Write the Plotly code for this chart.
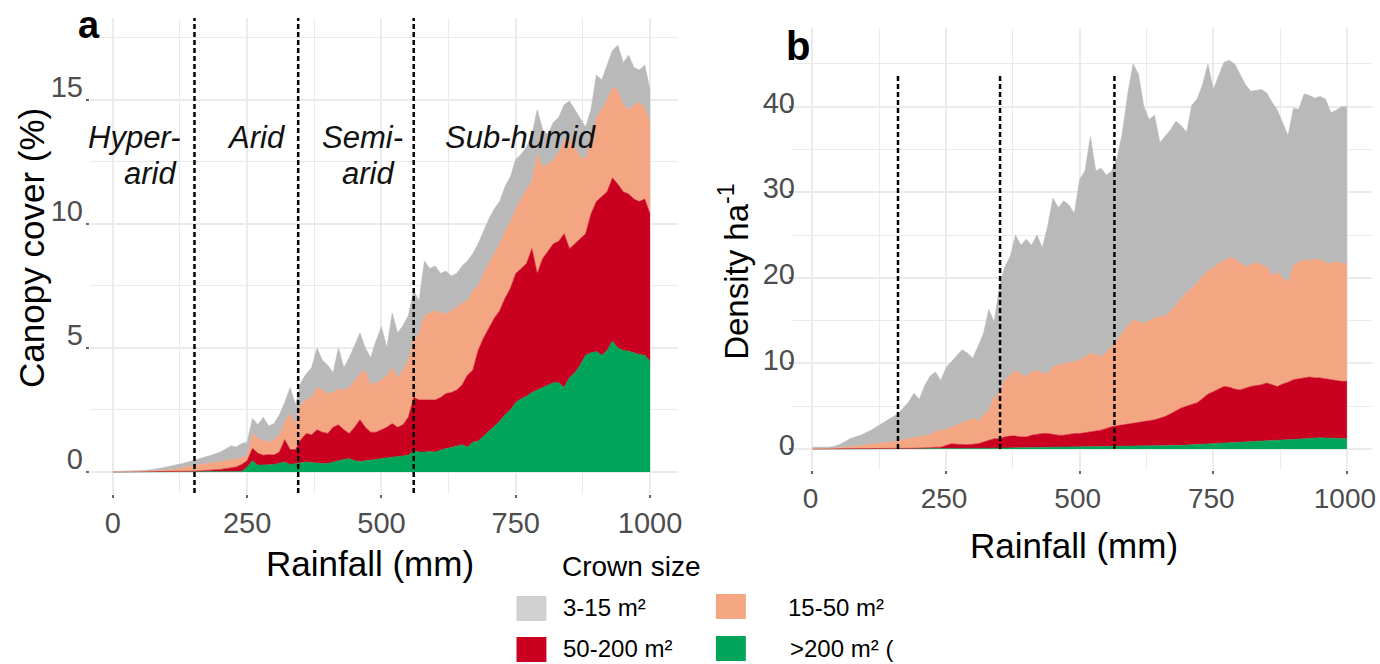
import plotly.graph_objects as go

W, H = 1380, 664
FONT = "Liberation Sans, Arial, sans-serif"

# ---------------- data ----------------
rainfall_mm = list(range(0, 1001, 10))

# Panel a: canopy cover (%) -- cumulative top of each stacked crown-size layer
cover_top_gt200 = [
    0, 0, 0, 0, 0, 0, 0, 0, 0, 0,
    0, 0, 0, 0, 0, 0, 0, 0, 0, 0,
    0, 0, 0.01, 0.01, 0.02, 0.2, 0.45, 0.27, 0.28, 0.3,
    0.3, 0.35, 0.4, 0.3, 0.34, 0.36, 0.4, 0.38, 0.35, 0.34,
    0.34, 0.38, 0.45, 0.5, 0.54, 0.45, 0.42, 0.45, 0.47, 0.5,
    0.54, 0.56, 0.58, 0.6, 0.62, 0.67, 0.85, 0.8, 0.8, 0.82,
    0.8, 0.88, 0.94, 0.98, 1.05, 1.1, 1.0, 1.2, 1.24, 1.45,
    1.64, 1.85, 2.04, 2.3, 2.5, 2.8, 2.95, 3.05, 3.2, 3.3,
    3.4, 3.5, 3.6, 3.6, 3.4, 3.8, 4.0, 4.3, 4.7, 4.8,
    4.85, 4.7, 4.9, 5.27, 5.0, 4.9, 4.87, 4.8, 4.73, 4.7,
    4.46]
cover_top_50_200 = [
    0, 0, 0, 0, 0, 0, 0, 0, 0, 0,
    0.01, 0.01, 0.01, 0.02, 0.02, 0.03, 0.04, 0.05, 0.07, 0.08,
    0.1, 0.13, 0.16, 0.2, 0.3, 0.45, 0.95, 0.75, 0.67, 0.7,
    0.68, 0.8, 1.3, 0.9, 0.9, 1.3, 1.55, 1.5, 1.7, 1.6,
    1.55, 1.8, 1.9, 1.7, 1.55, 1.8, 2.1, 1.8, 1.6, 1.6,
    1.7, 1.8, 1.95, 1.8, 1.9, 2.2, 3.0, 2.9, 2.9, 2.9,
    2.9, 3.0, 3.16, 3.2, 3.3, 3.5, 3.9, 4.1, 4.9, 5.4,
    5.8, 6.2, 6.5, 7.0, 7.4, 8.0, 8.2, 8.4, 9.0, 8.0,
    8.6, 8.9, 9.2, 9.3, 9.6, 9.0, 9.2, 9.4, 9.6, 10.4,
    10.9, 11.1, 11.3, 11.85, 11.6, 11.3, 11.2, 11.0, 10.9, 11.0,
    10.4]
cover_top_15_50 = [
    0.01, 0.01, 0.01, 0.02, 0.02, 0.03, 0.03, 0.04, 0.05, 0.06,
    0.07, 0.1, 0.13, 0.17, 0.22, 0.27, 0.3, 0.33, 0.36, 0.38,
    0.4, 0.45, 0.5, 0.52, 0.58, 0.65, 1.55, 1.35, 1.28, 1.2,
    1.3, 1.5, 2.0, 2.35, 1.9, 2.7, 2.9, 3.0, 3.4, 3.3,
    3.16, 3.2, 3.35, 3.3, 3.4, 3.7, 3.96, 4.1, 3.5, 3.6,
    3.7, 3.9, 4.2, 3.8, 4.1, 4.5, 5.3, 5.6, 6.3, 6.4,
    6.5, 6.4, 6.4, 6.5, 6.65, 6.8, 6.9, 7.3, 7.5, 8.0,
    8.4, 8.8, 9.2, 9.7, 10.1, 10.6, 11.0, 11.4, 11.7, 12.8,
    12.3, 12.4, 12.6, 12.9, 13.3, 13.5, 13.1, 12.7, 12.6, 13.4,
    14.3, 14.6, 15.0, 15.5, 15.4, 14.8, 14.6, 14.8, 14.9, 14.7,
    14.0]
cover_top_3_15 = [
    0.02, 0.02, 0.03, 0.03, 0.04, 0.05, 0.06, 0.08, 0.11, 0.15,
    0.2, 0.24, 0.29, 0.34, 0.4, 0.46, 0.5, 0.58, 0.65, 0.72,
    0.8, 0.92, 1.05, 1.0, 1.15, 1.2, 2.15, 1.9, 2.2, 1.85,
    1.95, 2.3, 2.8, 3.4, 2.7, 3.6, 3.96, 4.2, 5.0, 4.5,
    4.3, 4.0, 5.0, 4.2, 4.6, 5.1, 5.6, 5.0, 4.6, 5.3,
    5.85, 5.0, 6.4, 5.6, 5.9, 6.3, 7.3, 6.9, 8.5, 8.2,
    8.3, 8.0, 8.1, 7.9, 8.0, 8.3, 8.5, 8.8, 9.2, 9.7,
    10.2, 10.6, 10.9, 11.5, 11.9, 12.6, 12.8, 13.1, 13.6, 14.6,
    13.8, 13.6, 14.1, 14.3, 14.8, 14.95, 14.6, 14.2, 13.9, 14.6,
    16.0, 15.8, 16.4, 17.0, 17.2, 16.5, 16.8, 16.3, 16.2, 16.4,
    15.4]

# Panel b: density (trees ha-1) -- cumulative top of each stacked layer
density_top_gt200 = [
    0, 0, 0, 0, 0, 0, 0, 0, 0, 0,
    0, 0, 0, 0, 0, 0, 0, 0, 0, 0,
    0, 0.02, 0.02, 0.03, 0.03, 0.04, 0.04, 0.05, 0.05, 0.05,
    0.06, 0.07, 0.08, 0.08, 0.09, 0.1, 0.1, 0.11, 0.11, 0.12,
    0.12, 0.13, 0.13, 0.14, 0.15, 0.15, 0.16, 0.17, 0.18, 0.19,
    0.2, 0.2, 0.21, 0.21, 0.22, 0.22, 0.24, 0.25, 0.26, 0.27,
    0.28, 0.28, 0.29, 0.3, 0.3, 0.3, 0.33, 0.36, 0.39, 0.42,
    0.45, 0.48, 0.51, 0.54, 0.57, 0.6, 0.63, 0.66, 0.69, 0.72,
    0.75, 0.78, 0.81, 0.84, 0.87, 0.9, 0.94, 0.98, 1.02, 1.06,
    1.1, 1.15, 1.2, 1.25, 1.3, 1.3, 1.28, 1.26, 1.24, 1.22,
    1.2]
density_top_50_200 = [
    0, 0, 0, 0, 0, 0, 0, 0, 0, 0,
    0, 0, 0.02, 0.02, 0.03, 0.03, 0.04, 0.05, 0.06, 0.08,
    0.1, 0.1, 0.15, 0.2, 0.2, 0.4, 0.6, 0.55, 0.5, 0.5,
    0.55, 0.6, 0.8, 1.0, 1.2, 1.2, 1.4, 1.5, 1.5, 1.4,
    1.4, 1.6, 1.7, 1.8, 1.8, 1.7, 1.6, 1.6, 1.7, 1.8,
    1.8, 1.9, 2.0, 2.1, 2.2, 2.4, 2.6, 2.7, 2.8, 2.9,
    3.0, 3.1, 3.2, 3.3, 3.4, 3.6, 3.8, 4.1, 4.5, 4.8,
    5.0, 5.2, 5.4, 5.9, 6.4, 6.7, 7.0, 7.3, 7.2, 7.0,
    6.9, 7.1, 7.3, 7.4, 7.5, 7.7, 7.5, 7.3, 7.6, 7.8,
    8.1, 8.2, 8.3, 8.4, 8.3, 8.3, 8.2, 8.1, 8.0, 7.9,
    7.9]
density_top_15_50 = [
    0.05, 0.05, 0.05, 0.1, 0.1, 0.15, 0.2, 0.25, 0.3, 0.4,
    0.5, 0.6, 0.65, 0.7, 0.75, 0.8, 0.9, 1.1, 1.2, 1.3,
    1.4, 1.55, 1.7, 2.0, 2.2, 2.3, 2.5, 2.8, 3.1, 3.3,
    3.6, 3.3, 4.0, 4.5, 6.0, 6.5, 8.1, 8.6, 9.2, 8.7,
    8.5, 9.0, 9.2, 8.9, 8.8, 9.6, 9.8, 10.0, 10.1, 10.2,
    10.4, 10.8, 11.2, 11.0, 10.8, 11.3, 12.0, 12.7, 13.6, 14.4,
    15.1, 14.9, 14.7, 15.0, 15.3, 15.5, 15.5, 16.1, 16.8, 17.6,
    18.3, 18.8, 19.4, 20.2, 20.8, 21.2, 21.7, 22.0, 22.4, 22.2,
    21.7, 21.3, 21.6, 21.8, 21.5, 21.3, 20.3, 20.6, 20.0, 19.5,
    21.5, 21.8, 22.1, 22.0, 22.2, 22.1, 21.8, 21.7, 21.9, 21.7,
    21.7]
density_top_3_15 = [
    0.2, 0.2, 0.2, 0.2, 0.3, 0.5, 0.8, 1.2, 1.4, 1.6,
    1.9, 2.2, 2.6, 3.0, 3.4, 3.8, 4.1, 4.8, 5.5, 6.5,
    5.8, 7.4, 8.5, 9.0, 8.0, 9.5, 10.2, 11.0, 11.6, 11.2,
    10.6, 12.0, 13.5, 16.3, 14.8, 19.0, 21.3, 22.5, 25.0, 23.8,
    24.5, 23.8, 25.0, 23.5, 26.0, 29.3, 28.2, 29.0, 28.5, 27.5,
    31.5, 32.5, 36.5, 32.5, 32.8, 32.0, 32.5, 34.0, 37.0, 41.5,
    45.0, 43.8, 40.0, 38.5, 39.0, 35.8, 36.5, 37.3, 38.3, 37.8,
    37.0, 40.2, 40.9, 42.6, 45.0, 42.0, 43.6, 45.2, 45.4, 45.0,
    43.8, 42.6, 41.8, 41.9, 42.0, 41.6, 40.5, 39.6, 38.2, 36.6,
    39.8, 39.7, 41.5, 41.3, 41.0, 41.2, 40.9, 39.3, 39.6, 40.0,
    40.0]

crown_classes = [">200 m²", "50-200 m²", "15-50 m²", "3-15 m²"]
class_colors = ["#00a55a", "#ca0020", "#f4a582", "#b9b9b9"]
legend_colors = ["#00a55a", "#ca0020", "#f4a582", "#d0d0d0"]

zone_bounds_a = [152, 345, 560]
zone_bounds_b = [160, 351, 565]

x_ticks = [0, 250, 500, 750, 1000]
cover_ticks = [0, 5, 10, 15]
density_ticks = [0, 10, 20, 30, 40]

# ---------------- figure ----------------
def fx(p):
    return p / W

def fy(p):
    return 1 - p / H

fig = go.Figure()

cover_layers = [cover_top_gt200, cover_top_50_200, cover_top_15_50, cover_top_3_15]
density_layers = [density_top_gt200, density_top_50_200, density_top_15_50, density_top_3_15]

for axes, layers in (("a", cover_layers), ("b", density_layers)):
    xa, ya = ("x", "y") if axes == "a" else ("x2", "y2")
    for i, (name, vals, col) in enumerate(zip(crown_classes, layers, class_colors)):
        fig.add_trace(go.Scatter(
            x=rainfall_mm, y=vals, mode="lines", name=name,
            line=dict(width=0.6, color=col), fill="tozeroy" if i == 0 else "tonexty",
            fillcolor=col, xaxis=xa, yaxis=ya, showlegend=False, hoverinfo="skip"))

GRID = "#ebebeb"
tickfont = dict(family=FONT, size=29, color="#4d4d4d")
common = dict(showgrid=True, gridcolor=GRID, gridwidth=1.6, zeroline=False, showline=False,
              ticks="outside", ticklen=3, tickwidth=2, tickcolor="#666", tickfont=tickfont,
              tickmode="array")

fig.update_layout(
    width=W, height=H, margin=dict(l=0, r=0, t=0, b=0),
    paper_bgcolor="white", plot_bgcolor="white", showlegend=False,
    font=dict(family=FONT, color="black"),
    xaxis=dict(common, domain=[fx(90), fx(680)], range=[-43, 1052], tickvals=x_ticks,
               anchor="y", minor=dict(tickvals=[125, 375, 625, 875], showgrid=True, gridcolor=GRID, gridwidth=1.3)),
    yaxis=dict(common, domain=[fy(494), fy(18)], range=[-0.89, 18.3], tickvals=cover_ticks,
               anchor="x", ticklabelshift=-13, ticklabelstandoff=-3,
               minor=dict(tickvals=[2.5, 7.5, 12.5, 17.5], showgrid=True, gridcolor=GRID, gridwidth=1.3)),
    xaxis2=dict(common, domain=[fx(795), fx(1376)], range=[-37, 1047], tickvals=x_ticks,
                anchor="y2", ticklabelshift=-2, tickfont=dict(tickfont, size=28),
                minor=dict(tickvals=[125, 375, 625, 875], showgrid=True, gridcolor=GRID, gridwidth=1.3)),
    yaxis2=dict(common, domain=[fy(470), fy(28)], range=[-2.46, 49.2], tickvals=density_ticks,
                anchor="x2", ticklabelshift=-4, ticklabelstandoff=-12,
                minor=dict(tickvals=[5, 15, 25, 35, 45], showgrid=True, gridcolor=GRID, gridwidth=1.3)),
)

shapes = []
for xv in zone_bounds_a:
    shapes.append(dict(type="line", xref="x", yref="y", x0=xv, x1=xv, y0=-0.85, y1=18.3,
                       line=dict(color="black", width=2.5, dash="5px,3px")))
for xv in zone_bounds_b:
    shapes.append(dict(type="line", xref="x2", yref="y2", x0=xv, x1=xv, y0=0, y1=43.9,
                       line=dict(color="black", width=2.5, dash="5px,3px")))

annotations = []

def paper_text(text, px, py, size, xanchor="center", angle=0, color="black", bold=False):
    annotations.append(dict(text=f"<b>{text}</b>" if bold else text, x=fx(px), y=fy(py),
                            xref="paper", yref="paper", showarrow=False, xanchor=xanchor,
                            yanchor="middle", textangle=angle, borderpad=0,
                            font=dict(family=FONT, size=size, color=color)))

# panel letters
paper_text("a", 89, 25, 38, bold=True)
paper_text("b", 800, 46, 40, bold=True)
# axis titles
paper_text("Rainfall (mm)", 371, 563, 35)
paper_text("Rainfall (mm)", 1077, 545, 35)
paper_text("Canopy cover (%)", 31, 248, 35, angle=-90)
paper_text("Density ha<sup>-1</sup>", 736, 272, 33, angle=-90)

# aridity zone labels (data coordinates in panel a)
zone_text = [("Hyper-", 40, 13.5), ("arid", 70, 12.05), ("Arid", 267, 13.5),
             ("Semi-", 464, 13.5), ("arid", 475, 12.05), ("Sub-humid", 759, 13.5)]
for t, xv, yv in zone_text:
    annotations.append(dict(text=t, x=xv, y=yv, xref="x", yref="y", showarrow=False,
                            xanchor="center", yanchor="middle",
                            font=dict(family=FONT, size=31, color="#111", style="italic")))

# legend (manual, 2x2)
paper_text("Crown size", 563, 566, 28, xanchor="left")
legend_pos = {"3-15 m²": (518, 596, 564, 607, "3-15 m²"),
              "15-50 m²": (718, 594, 789, 607, "15-50 m²"),
              "50-200 m²": (518, 637, 564, 648, "50-200 m²"),
              ">200 m²": (718, 636, 791, 648, ">200 m² (")}
for name, col in zip(crown_classes, legend_colors):
    sx, sy, tx, ty, label = legend_pos[name]
    shapes.append(dict(type="rect", xref="paper", yref="paper", x0=fx(sx), x1=fx(sx + 30),
                       y0=fy(sy + 25), y1=fy(sy), fillcolor=col, line=dict(width=0)))
    paper_text(label, tx, ty, 24, xanchor="left")

fig.update_layout(shapes=shapes, annotations=annotations)
fig.write_html(
    "out.html",
    config={"displayModeBar": False},
    post_script="document.body.style.margin='0';document.body.style.padding='0';"
                "document.documentElement.style.overflow='hidden';",
)
